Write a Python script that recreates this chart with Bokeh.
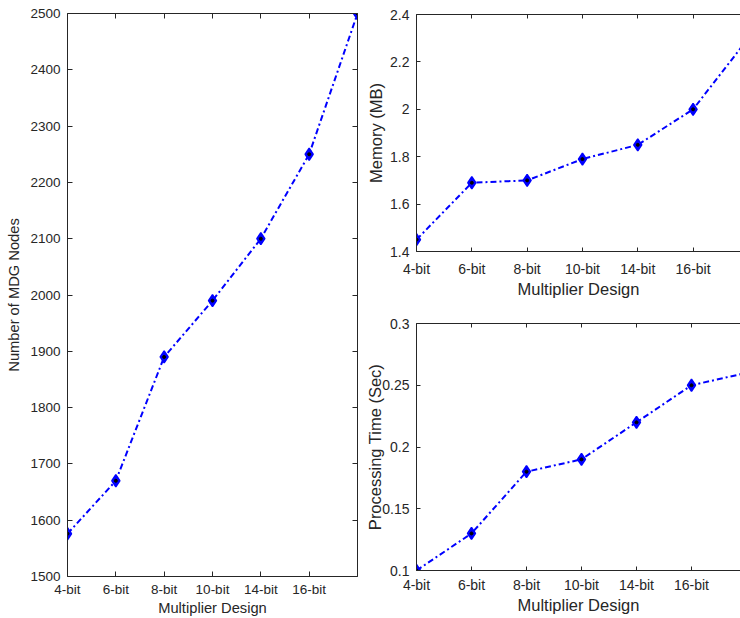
from bokeh.plotting import figure
from bokeh.models import FixedTicker, LinearAxis, Range1d
from bokeh.layouts import row, column
from bokeh.embed import file_html
from bokeh.resources import INLINE

# ---- data ----
designs = ["4-bit", "6-bit", "8-bit", "10-bit", "14-bit", "16-bit", ""]
x_pos = [1, 2, 3, 4, 5, 6, 7]
mdg_nodes = [1576, 1670, 1890, 1990, 2100, 2250, 2500]
memory_mb = [1.45, 1.69, 1.70, 1.79, 1.85, 2.00, 2.30]
proc_time = [0.10, 0.13, 0.18, 0.19, 0.22, 0.25, 0.26]
mdg_ticks = [1500, 1600, 1700, 1800, 1900, 2000, 2100, 2200, 2300, 2400, 2500]
mem_ticks = [1.4, 1.6, 1.8, 2.0, 2.2, 2.4]
time_ticks = [0.1, 0.15, 0.2, 0.25, 0.3]

FONT = "Liberation Sans"
INK = "#262626"
BLUE = "#0000ff"


def fmt(v):
    return f"{v:g}"


def style_axis(ax, tick_fs, label_fs, tick_len, show_labels=True):
    ax.axis_line_color = INK
    ax.axis_line_width = 1
    ax.major_tick_line_color = INK
    ax.major_tick_in = tick_len
    ax.major_tick_out = 0
    ax.minor_tick_line_color = None
    ax.major_label_text_font = FONT
    ax.major_label_text_color = INK if show_labels else None
    ax.axis_label_text_font = FONT
    ax.axis_label_text_color = INK
    ax.axis_label_text_font_style = "normal"
    ax.major_label_text_font_size = tick_fs
    ax.axis_label_text_font_size = label_fs


def make_fig(width, height, mb, xr, yr, yticks, ylabel, yvals,
             tick_fs, label_fs, tick_len, box_right, x_standoff):
    p = figure(width=width, height=height, output_backend="svg",
               toolbar_location=None,
               x_range=Range1d(*xr), y_range=Range1d(*yr),
               min_border_left=mb[0], min_border_right=mb[1],
               min_border_top=mb[2], min_border_bottom=mb[3])
    p.outline_line_color = None
    p.xgrid.visible = False
    p.ygrid.visible = False
    p.background_fill_color = "white"
    p.border_fill_color = "white"

    xa = p.xaxis[0]
    xa.ticker = FixedTicker(ticks=x_pos)
    xa.major_label_overrides = {x: d for x, d in zip(x_pos, designs)}
    xa.axis_label = "Multiplier Design"
    style_axis(xa, tick_fs, label_fs, tick_len)
    xa.major_label_standoff = x_standoff
    xa.axis_label_standoff = 0

    ya = p.yaxis[0]
    ya.ticker = FixedTicker(ticks=yticks)
    ya.major_label_overrides = {t: fmt(t) for t in yticks}
    ya.axis_label = ylabel
    style_axis(ya, tick_fs, label_fs, tick_len)
    ya.major_label_standoff = 7

    top = LinearAxis(ticker=FixedTicker(ticks=x_pos))
    style_axis(top, tick_fs, label_fs, tick_len, show_labels=False)
    top.major_label_standoff = 0
    p.add_layout(top, "above")
    if box_right:
        right = LinearAxis(ticker=FixedTicker(ticks=yticks))
        style_axis(right, tick_fs, label_fs, tick_len, show_labels=False)
        right.major_label_standoff = 0
        p.add_layout(right, "right")

    p.line(x_pos, yvals, line_color=BLUE, line_width=2, line_dash="6 3 2 3")
    p.scatter(x_pos, yvals, marker="diamond", size=12, fill_color=BLUE,
              line_color=BLUE, line_width=1.5)
    p.scatter(x_pos, yvals, marker="circle", size=3, fill_color="black",
              line_color="black")
    return p


left = make_fig(360, 618, (67, 3, 13, 40), (1, 7), (1500, 2500), mdg_ticks,
                "Number of MDG Nodes", mdg_nodes, "13.5px", "14.7px", 5, True, 5)
left.yaxis[0].axis_label_standoff = 5

top_right = make_fig(380, 300, (52, 0, 14, 47), (1, 1 + 328 / 56), (1.4, 2.4),
                     mem_ticks, "Memory (MB)", memory_mb, "14px", "16.5px", 4, False, 9)
top_right.yaxis[0].axis_label_standoff = 2

bottom_right = make_fig(380, 318, (56, 0, 23, 48), (1, 1 + 324 / 55), (0.1, 0.3),
                        time_ticks, "Processing Time (Sec)", proc_time, "14px", "16.5px", 4, False, 6)
bottom_right.yaxis[0].axis_label_standoff = -5

layout = row(left, column(top_right, bottom_right))

open("out.html", "w").write(file_html(layout, INLINE))
